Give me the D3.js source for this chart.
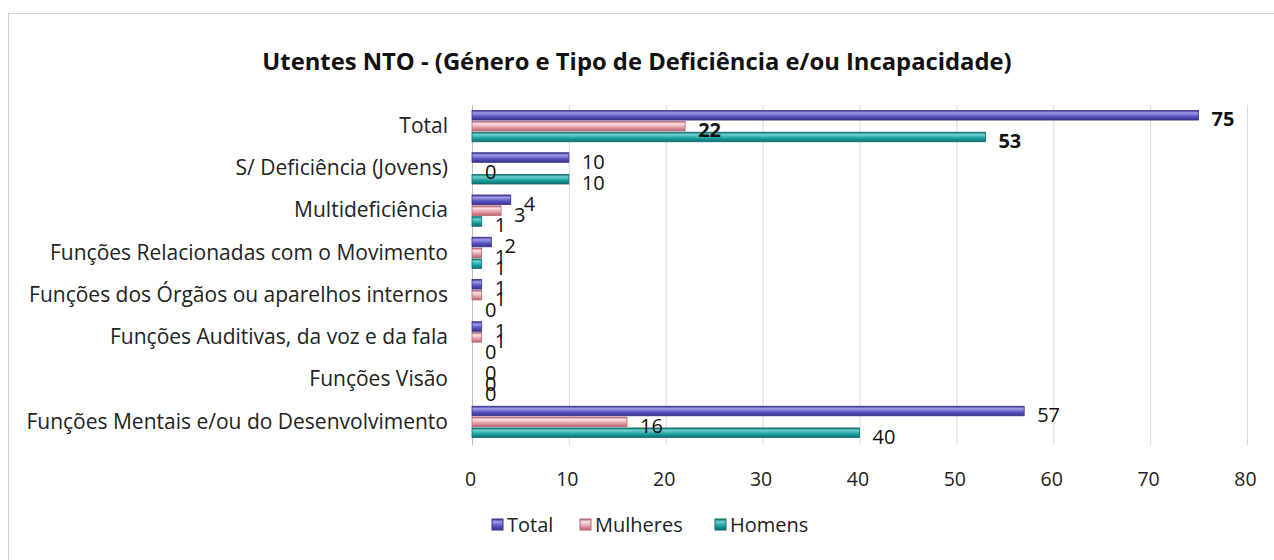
<!DOCTYPE html>
<html>
<head>
<meta charset="utf-8">
<script src="https://cdn.jsdelivr.net/npm/d3@7"></script>
<style>
  body { margin: 0; background: #fff; }
  #graph1 { width: 1274px; height: 560px; }
</style>
</head>
<body>
<div id="graph1"></div>
<script>
// categories top to bottom as in the picture
const categories = [
  "Total",
  "S/ Deficiência (Jovens)",
  "Multideficiência",
  "Funções Relacionadas com o Movimento",
  "Funções dos Órgãos ou aparelhos internos",
  "Funções Auditivas, da voz e da fala",
  "Funções Visão",
  "Funções Mentais e/ou do Desenvolvimento",
];
const seriesNames = ["Total", "Mulheres", "Homens"];
const totalValues = [75, 10, 4, 2, 1, 1, 0, 57];
const mulheresValues = [22, 0, 3, 1, 1, 1, 0, 16];
const homensValues = [53, 10, 1, 1, 0, 0, 0, 40];
const xTicks = [0, 10, 20, 30, 40, 50, 60, 70, 80];

const title = "Utentes NTO - (Género e Tipo de Deficiência e/ou Incapacidade)";
const font = "'Open Sans', sans-serif";

// colours for each series: [light, mid, dark] for the 3d look
const colours = [
  ["#a19ee6", "#5d58c6", "#37318c"],
  ["#fbe3e6", "#e7a3ab", "#b86470"],
  ["#6fd0cf", "#1fa3a3", "#0d6e70"],
];

function drawBarChart(id) {
  const w = 1274;
  const h = 560;

  const values = [totalValues, mulheresValues, homensValues];
  const data = categories.map((c, i) => ({
    category: c,
    bars: seriesNames.map((s, j) => ({ series: j, value: values[j][i] })),
  }));

  const svg = d3
    .select(`#${id}`)
    .append("svg")
    .attr("width", w)
    .attr("height", h)
    .style("font-family", font);

  // gradients for bars
  const defs = svg.append("defs");
  colours.forEach((c, i) => {
    const grad = defs
      .append("linearGradient")
      .attr("id", `grad${i}`)
      .attr("x1", 0)
      .attr("y1", 0)
      .attr("x2", 0)
      .attr("y2", 1);
    grad.append("stop").attr("offset", "0%").attr("stop-color", c[2]);
    grad.append("stop").attr("offset", "25%").attr("stop-color", c[0]);
    grad.append("stop").attr("offset", "60%").attr("stop-color", c[1]);
    grad.append("stop").attr("offset", "100%").attr("stop-color", c[2]);
  });

  // chart frame (only top and left edges visible in the scan)
  svg.append("line")
    .attr("x1", 9).attr("x2", w).attr("y1", 13.5).attr("y2", 13.5)
    .attr("stroke", "#d4d4d4");
  svg.append("line")
    .attr("x1", 8.5).attr("x2", 8.5).attr("y1", 13).attr("y2", h)
    .attr("stroke", "#cfcfc0");

  // title
  svg.append("text")
    .attr("x", 637)
    .attr("y", 70)
    .attr("text-anchor", "middle")
    .style("font-size", "23.8px")
    .style("font-weight", "bold")
    .attr("fill", "#111")
    .text(title);

  // scales
  const xScale = d3.scaleLinear().domain([0, 80]).range([472, 1247]);
  const yScale = d3
    .scaleBand()
    .domain(categories)
    .range([105, 443])
    .paddingInner(0.26)
    .paddingOuter(0.13);
  const ySub = d3
    .scaleBand()
    .domain([0, 1, 2])
    .range([0, yScale.bandwidth()])
    .paddingInner(0.12);

  // vertical gridlines
  svg.append("g")
    .selectAll("line")
    .data(xTicks)
    .join("line")
    .attr("x1", (d) => xScale(d) + 0.5)
    .attr("x2", (d) => xScale(d) + 0.5)
    .attr("y1", 105)
    .attr("y2", 445)
    .attr("stroke", (d) => (d === 0 ? "#bdbdbd" : "#dadada"));

  // x axis labels
  const xAxis = svg
    .append("g")
    .attr("transform", `translate(-2,472)`)
    .call(d3.axisBottom(xScale).tickValues(xTicks).tickSize(0).tickPadding(0));
  xAxis.select(".domain").remove();
  xAxis.selectAll("text")
    .style("font-family", font)
    .style("font-size", "19.5px")
    .attr("fill", "#222");

  // y axis labels
  const yAxis = svg
    .append("g")
    .attr("transform", `translate(448,0)`)
    .call(d3.axisLeft(yScale).tickSize(0).tickPadding(0));
  yAxis.select(".domain").remove();
  yAxis.selectAll("text")
    .style("font-family", font)
    .style("font-size", "21px")
    .attr("fill", "#222");

  // bars
  const groups = svg
    .append("g")
    .selectAll("g")
    .data(data)
    .join("g")
    .attr("transform", (d) => `translate(0,${yScale(d.category)})`);

  groups
    .selectAll("rect")
    .data((d) => d.bars.filter((b) => b.value > 0))
    .join("rect")
    .attr("x", xScale(0))
    .attr("y", (d) => ySub(d.series))
    .attr("width", (d) => xScale(d.value) - xScale(0))
    .attr("height", ySub.bandwidth())
    .attr("fill", (d) => `url(#grad${d.series})`)
    .attr("stroke", (d) => colours[d.series][2])
    .attr("stroke-width", 0.8);

  // value labels
  groups
    .selectAll("text")
    .data((d, i) => d.bars.map((b) => ({ ...b, bold: i === 0 })))
    .join("text")
    .attr("x", (d) => xScale(d.value) + 13)
    .attr("y", (d) => ySub(d.series) + ySub.bandwidth() / 2 + 4)
    .attr("dy", "0.35em")
    .style("font-size", "20px")
    .style("font-weight", (d) => (d.bold ? "bold" : "normal"))
    .attr("fill", "#111")
    .text((d) => d.value);

  // legend
  const legend = svg.append("g").attr("transform", "translate(492,525)");
  const legendX = [0, 88, 223];
  seriesNames.forEach((s, i) => {
    const item = legend.append("g").attr("transform", `translate(${legendX[i]},0)`);
    item.append("rect")
      .attr("x", 0)
      .attr("y", -6)
      .attr("width", 11)
      .attr("height", 11)
      .attr("fill", `url(#grad${i})`)
      .attr("stroke", colours[i][2]);
    item.append("text")
      .attr("x", 15)
      .attr("dy", "0.35em")
      .style("font-size", "20px")
      .attr("fill", "#222")
      .text(s);
  });
}

document.addEventListener("DOMContentLoaded", function () {
  drawBarChart("graph1");
});
</script>
</body>
</html>
